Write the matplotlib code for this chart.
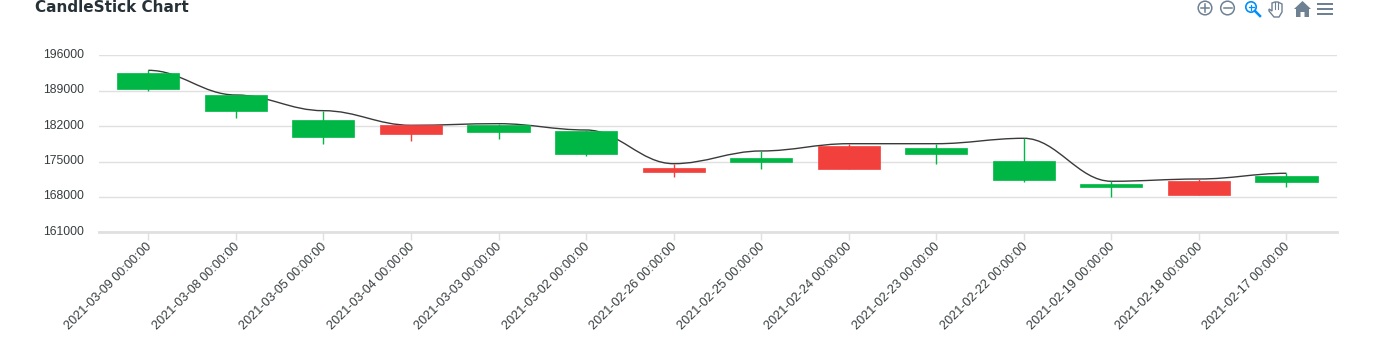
# candlestick chart, newest date on the left
import matplotlib
matplotlib.use("Agg")
import matplotlib.pyplot as plt
from matplotlib.path import Path
from matplotlib.patches import PathPatch, Circle, Polygon, Rectangle
from matplotlib.transforms import ScaledTranslation

plt.rcParams['font.family'] = ['Liberation Sans', 'DejaVu Sans']

dates = ["2021-03-09 00:00:00", "2021-03-08 00:00:00", "2021-03-05 00:00:00",
         "2021-03-04 00:00:00", "2021-03-03 00:00:00", "2021-03-02 00:00:00",
         "2021-02-26 00:00:00", "2021-02-25 00:00:00", "2021-02-24 00:00:00",
         "2021-02-23 00:00:00", "2021-02-22 00:00:00", "2021-02-19 00:00:00",
         "2021-02-18 00:00:00", "2021-02-17 00:00:00"]
opens = [189400, 184930, 179910, 182160, 180900, 176430, 173660,
         174900, 178070, 176430, 171410, 169960, 171150, 170950]
closes = [192560, 188090, 183150, 180440, 182220, 181090, 172930,
          175640, 173460, 177610, 175100, 170610, 168440, 172140]
highs = [193030, 188150, 185050, 182160, 182480, 181230, 174570,
         177080, 178520, 178520, 179590, 171090, 171540, 172670]
lows = [189000, 183545, 178520, 179060, 179510, 176030, 172000,
        173520, 173460, 174570, 171010, 168050, 168440, 170020]
yticks = [161000, 168000, 175000, 182000, 189000, 196000]

GREEN = '#00B746'
RED = '#F2403C'
GREY = '#E0E0E0'
TEXT = '#373D3F'
ICON = '#6E8192'

W, H = 1374, 356
fig = plt.figure(figsize=(W / 100, H / 100), dpi=100)
ax = fig.add_axes([99 / W, 1 - 232.3 / H, (1337 - 99) / W, (232.3 - 55.3) / H])

x = list(range(len(dates)))
colors = [GREEN if c > o else RED for o, c in zip(opens, closes)]

# smooth line through the highs, flat at every point
verts = [(x[0], highs[0])]
codes = [Path.MOVETO]
for i in range(len(x) - 1):
    d = 0.38
    verts += [(x[i] + d, highs[i]), (x[i + 1] - d, highs[i + 1]), (x[i + 1], highs[i + 1])]
    codes += [Path.CURVE4] * 3
ax.add_patch(PathPatch(Path(verts, codes), fill=False, edgecolor='#3A3A3A', lw=1.0, zorder=2))

ax.vlines(x, lows, highs, colors=colors, lw=1.0, zorder=3)
bottoms = [min(o, c) for o, c in zip(opens, closes)]
heights = [abs(c - o) for o, c in zip(opens, closes)]
ax.bar(x, heights, bottom=bottoms, width=0.71, color=colors, edgecolor=colors, lw=0.5, zorder=4)

ax.set_xlim(-0.563, 13.577)
ax.set_ylim(161000, 196000)
ax.set_yticks(yticks)
ax.set_yticklabels([str(v) for v in yticks], fontsize=8.8, color=TEXT)
ax.set_xticks(x)
ax.set_xticklabels(dates, fontsize=9.1, color=TEXT, rotation=45, ha='right', va='top',
                   rotation_mode='anchor')
ax.tick_params(axis='y', length=0, pad=11)
ax.tick_params(axis='x', length=6, width=1, color=GREY, pad=2)
ax.grid(axis='y', color=GREY, lw=1)
ax.set_axisbelow(True)
for name in ['top', 'right', 'left']:
    ax.spines[name].set_visible(False)
ax.spines['bottom'].set_color(GREY)
ax.spines['bottom'].set_linewidth(2)

# nudge labels by a few pixels
for t in ax.get_xticklabels():
    t.set_transform(t.get_transform() + ScaledTranslation(-2.5 / 100, 3 / 100, fig.dpi_scale_trans))
for t in ax.get_yticklabels():
    t.set_transform(t.get_transform() + ScaledTranslation(0, 2 / 100, fig.dpi_scale_trans))

fig.text(35 / W, 1 - 7 / H, "CandleStick Chart", fontsize=11, fontweight='bold', color='#263238',
         va='center', ha='left', family='DejaVu Sans')

# toolbar icons, overlay axes in pixels
tb = fig.add_axes([0, 0, 1, 1])
tb.set_xlim(0, W)
tb.set_ylim(H, 0)
tb.axis('off')
tb.patch.set_alpha(0)
tb.add_patch(Circle((1205, 8), 6.8, fill=False, ec=ICON, lw=1.1))
tb.plot([1201, 1209], [8, 8], color=ICON, lw=1.1)
tb.plot([1205, 1205], [4, 12], color=ICON, lw=1.1)
tb.add_patch(Circle((1227.5, 8), 6.8, fill=False, ec=ICON, lw=1.1))
tb.plot([1223.5, 1231.5], [8, 8], color=ICON, lw=1.1)
tb.add_patch(Circle((1251, 7), 5.2, fill=False, ec='#008FFB', lw=1.2))
tb.plot([1255, 1260], [11, 16], color='#008FFB', lw=1.8)
tb.plot([1248.5, 1253.5], [7, 7], color='#008FFB', lw=0.9)
tb.plot([1251, 1251], [4.5, 9.5], color='#008FFB', lw=0.9)
tb.add_patch(Polygon([(1269, 9), (1272, 11), (1272, 3), (1275, 2), (1278, 2), (1282, 4), (1282, 12),
                      (1279, 17), (1274, 17), (1269, 11)], fill=False, ec=ICON, lw=1.0))
for hx in [1275, 1278]:
    tb.plot([hx, hx], [2, 9], color=ICON, lw=0.8)
tb.add_patch(Polygon([(1294, 9), (1302.5, 1), (1311, 9), (1309, 9), (1309, 17), (1304.5, 17),
                      (1304.5, 12), (1300.5, 12), (1300.5, 17), (1296, 17), (1296, 9)], color=ICON, lw=0))
for my in [4, 9, 14]:
    tb.add_patch(Rectangle((1317, my - 1), 16, 2, color=ICON, lw=0))

fig.savefig('out.png', dpi=100)
